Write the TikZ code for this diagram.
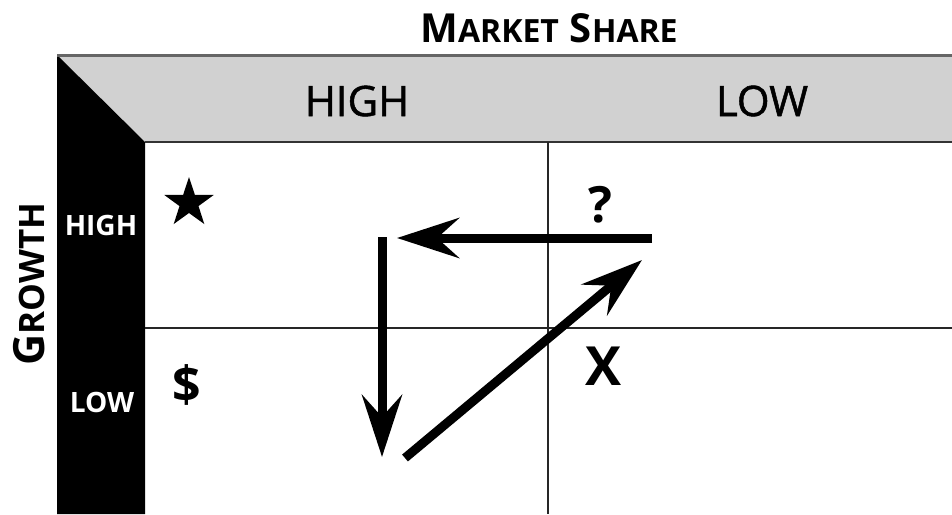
\documentclass[tikz,border=0pt]{standalone}
\usepackage{fontspec}
\setmainfont{Open Sans}
\usetikzlibrary{arrows.meta,shapes.geometric}

\newcommand{\fsize}[1]{\fontsize{#1}{#1}\selectfont}
\newcommand{\capsc}[2]{{\fsize{40}#1}{\fsize{32}#2}}
\newcommand{\capscbig}[2]{{\fsize{43}#1}{\fsize{35}#2}}

\tikzset{
  gridline/.style={line width=2.5pt, black!85},
  move/.style={line width=9pt, -{Stealth[length=62pt, width=40pt, inset=22pt]}},
  headlbl/.style={inner sep=0pt, font=\addfontfeature{FakeBold=1.2}\fsize{42}},
  sidelbl/.style={inner sep=0pt, text=white, font=\bfseries\fsize{28}},
  cellsym/.style={inner sep=0pt, font=\bfseries\fsize{50}}
}

\begin{document}
\begin{tikzpicture}[x=1pt, y=-1pt]

  \useasboundingbox (0,0) rectangle (952,514);

  % Corner points
  \coordinate (tl) at (57,55);
  \coordinate (tr) at (952,55);
  \coordinate (in) at (145,142);
  \coordinate (br) at (952,142);
  \coordinate (bl) at (57,514);

  % Header band and side band
  \fill[black!18] (tl) -- (tr) -- (br) -- (in) -- cycle;
  \fill[black] (tl) -- (in) -- (145,514) -- (bl) -- cycle;
  \draw[line width=3pt, black!60] (tl) -- (tr);
  \draw[line width=2pt, black!80] (in) -- (br);

  % Grid
  \draw[gridline] (548,142) -- (548,514);
  \draw[gridline] (145,328) -- (952,328);

  % Titles
  \node[inner sep=0pt, font=\bfseries] (share) at (549,28) {\capsc{M}{ARKET}\hspace{11pt}\capsc{S}{HARE}};
  \node[inner sep=0pt, font=\bfseries, rotate=90] (growth) at (29,284) {\capscbig{G}{ROWTH}};

  % Column and row labels
  \node[headlbl] (colhigh) at (357,101) {HIGH};
  \node[headlbl] (collow) at (762,101) {LOW};
  \node[sidelbl] (rowhigh) at (101,225) {HIGH};
  \node[sidelbl] (rowlow) at (102,402) {LOW};

  % Cell symbols
  \node[star, star points=5, star point ratio=2.6, fill=black, minimum size=52pt, inner sep=0pt] (star) at (189,203) {};
  \node[cellsym] (cash) at (187,385) {\$};
  \node[cellsym] (quest) at (600,205) {?};
  \node[cellsym, font=\bfseries\fsize{54}] (dog) at (603,366) {X};

  % Movement
  \coordinate (qstart) at (652,238);
  \coordinate (sstop) at (397,238);
  \coordinate (sstart) at (382,237);
  \coordinate (cstop) at (382,457);
  \coordinate (cstart) at (405,458);
  \coordinate (qstop) at (642,260);
  \draw[move] (qstart) -- (sstop);
  \draw[move] (sstart) -- (cstop);
  \draw[move] (cstart) -- (qstop);

\end{tikzpicture}
\end{document}
